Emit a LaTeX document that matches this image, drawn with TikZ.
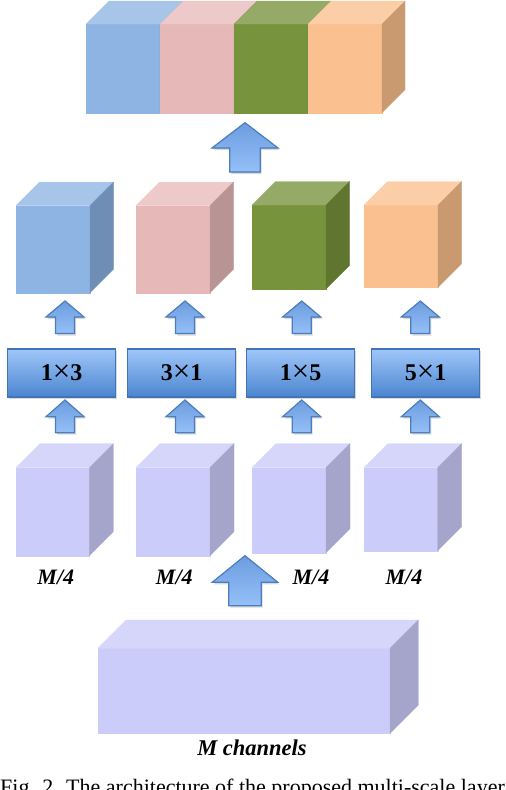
\documentclass[tikz,border=0pt]{standalone}
\usepackage{fontspec}
\setmainfont{Liberation Serif}
\usetikzlibrary{shadows}

\definecolor{blueF}{HTML}{8EB4E3}\definecolor{blueT}{HTML}{A7C4E9}\definecolor{blueS}{HTML}{6E8EB5}
\definecolor{pinkF}{HTML}{E6B9B8}\definecolor{pinkT}{HTML}{EDCAC9}\definecolor{pinkS}{HTML}{B89494}
\definecolor{greenF}{HTML}{77933C}\definecolor{greenT}{HTML}{94AA66}\definecolor{greenS}{HTML}{5F7530}
\definecolor{orangeF}{HTML}{FAC090}\definecolor{orangeT}{HTML}{FBCEA8}\definecolor{orangeS}{HTML}{C99A70}
\definecolor{lilacF}{HTML}{CCCCFA}\definecolor{lilacT}{HTML}{D6D6FA}\definecolor{lilacS}{HTML}{A5A5CC}
\definecolor{arrTop}{HTML}{6D9DDF}\definecolor{arrBot}{HTML}{95C0F8}\definecolor{arrLine}{HTML}{4A7EBD}
\definecolor{boxTop}{HTML}{A0C6F9}\definecolor{boxMid}{HTML}{8AB4F0}\definecolor{boxBot}{HTML}{4A85CF}
\definecolor{boxLine}{HTML}{4173B5}

\tikzset{
  cubefront/.style={rectangle, inner sep=0pt, outer sep=0pt, anchor=north west},
  blockarr/.style={draw=arrLine, line width=1.2pt, top color=arrTop, bottom color=arrBot,
    drop shadow={shadow xshift=1.5pt, shadow yshift=-2pt, opacity=0.3}},
  kernel/.style={draw=boxLine, line width=1.2pt, top color=boxTop, middle color=boxMid,
    bottom color=boxBot, anchor=north west, inner sep=0pt, minimum width=108pt,
    minimum height=48pt, font=\fontsize{24}{28}\selectfont\bfseries,
    drop shadow={shadow xshift=1.5pt, shadow yshift=-2pt, opacity=0.3}},
  chlabel/.style={anchor=base, font=\fontsize{22}{26}\selectfont\bfseries\itshape},
}

% name, x, y (front top left), width, height, depth, colour
\newcommand{\drawcube}[7]{%
  \node[cubefront, fill=#7F, draw=#7F, line width=0.3pt, minimum width=#4pt, minimum height=#5pt] (#1) at (#2,#3) {};
  \filldraw[fill=#7T, draw=#7T, line width=0.3pt] (#1.north west) -- ++(#6,-#6) -- ++(#4,0) -- (#1.north east) -- cycle;
  \filldraw[fill=#7S, draw=#7S, line width=0.3pt] (#1.north east) -- ++(#6,-#6) -- ++(0,#5) -- (#1.south east) -- cycle;
}
% x, tip y, head half width, head height, shaft half width, length
\newcommand{\blockarrow}[6]{%
  \filldraw[blockarr] (#1,#2) -- ({#1+#3},{#2+#4}) -- ({#1+#5},{#2+#4}) -- ({#1+#5},{#2+#6})
    -- ({#1-#5},{#2+#6}) -- ({#1-#5},{#2+#4}) -- ({#1-#3},{#2+#4}) -- cycle;
}
\newcommand{\tms}{\raisebox{-1.5pt}{\fontsize{31}{31}\selectfont\mdseries ×}}

\begin{document}
\begin{tikzpicture}[x=1pt, y=-1pt]
  \useasboundingbox (0,0) rectangle (506,790);

  % concatenated output
  \drawcube{o1}{86}{24}{74}{88.7}{23}{blue}
  \drawcube{o2}{160}{24}{74}{88.7}{23}{pink}
  \drawcube{o3}{234}{24}{74}{88.7}{23}{green}
  \drawcube{o4}{308}{24}{74}{88.7}{23}{orange}
  \blockarrow{245}{122.7}{33}{25.3}{15.2}{49.3}

  % branch outputs
  \drawcube{c1}{16}{205.7}{74}{87}{23.5}{blue}
  \drawcube{c2}{136}{205.7}{74}{87}{23.5}{pink}
  \drawcube{c3}{252}{205}{74}{84}{23.5}{green}
  \drawcube{c4}{364}{205}{74}{82.3}{23.5}{orange}

  % convolutions
  \foreach \x/\lab [count=\i] in {7/1\tms 3, 127/3\tms 1, 246/1\tms 5, 371/5\tms 1}
    \node[kernel] (k\i) at (\x,348.3) {\lab};
  \foreach \x in {65,185,301.7,420.3} {
    \blockarrow{\x}{301}{19}{16}{9.5}{32.5}
    \blockarrow{\x}{400}{19}{16.7}{9.5}{32.7}
  }

  % channel groups
  \drawcube{b1}{16}{467.7}{73.3}{88}{24}{lilac}
  \drawcube{b2}{136}{467.7}{74}{88}{24}{lilac}
  \drawcube{b3}{252}{467.7}{74}{85}{24}{lilac}
  \drawcube{b4}{364}{467.7}{73.7}{83}{24}{lilac}
  \foreach \x [count=\i] in {55.8,174.3,311,404}
    \node[chlabel] (m\i) at (\x,584) {M/4};
  \blockarrow{245}{555.7}{32.8}{26.6}{16.2}{50}

  % input
  \drawcube{in}{97.7}{648.3}{292.3}{85}{28.3}{lilac}
  \node[chlabel, font=\fontsize{22.5}{26}\selectfont\bfseries\itshape] (inlab) at (252,755) {M channels};

  \node[anchor=base west, inner sep=0pt, font=\fontsize{22}{26}\selectfont] (cap) at (0,794)
    {Fig. 2. The architecture of the proposed multi-scale layer};
\end{tikzpicture}
\end{document}
